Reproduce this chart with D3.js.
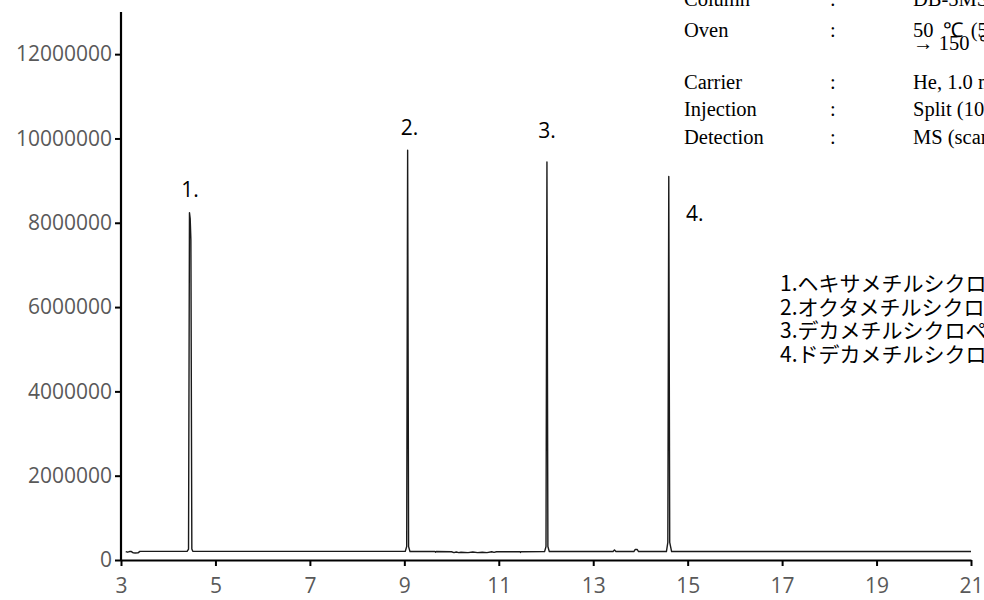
<!DOCTYPE html>
<html>
<head>
<meta charset="utf-8">
<script src="https://cdn.jsdelivr.net/npm/d3@7"></script>
<style>
  body { margin: 0; background: #fff; overflow: hidden; }
  svg { display: block; }
</style>
</head>
<body>
<div id="chart"></div>
<script>
// Retention time (min) and intensity of the chromatogram trace
const times = [
  3.10, 3.14, 3.18, 3.22, 3.26, 3.30, 3.36, 3.40,
  4.40, 4.43, 4.45, 4.465, 4.48, 4.50, 4.52,
  9.02, 9.05, 9.07, 9.09, 9.12,
  9.65, 9.66, 9.67, 10.00, 10.05, 10.10, 10.15, 10.20, 10.35, 10.45, 10.55, 10.65, 10.75, 10.85, 10.90, 10.95,
  11.45, 11.46, 11.47,
  11.97, 12.00, 12.02, 12.04, 12.07,
  13.42, 13.45, 13.48, 13.86, 13.89, 13.93, 13.96,
  14.55, 14.58, 14.60, 14.62, 14.66,
  21.00
];
const intensity = [
  200000, 185000, 200000, 200000, 170000, 165000, 170000, 205000,
  205000, 260000, 8240000, 8100000, 7600000, 260000, 205000,
  205000, 320000, 9720000, 320000, 200000,
  200000, 185000, 200000, 195000, 175000, 190000, 175000, 185000, 175000, 190000, 175000, 185000, 175000, 195000, 180000, 195000,
  195000, 180000, 195000,
  200000, 320000, 9440000, 320000, 200000,
  200000, 240000, 200000, 200000, 250000, 250000, 200000,
  200000, 420000, 9100000, 420000, 200000,
  200000
];

// Peak labels
const peakNames = ["1.", "2.", "3.", "4."];
const peakTimes = [4.46, 9.07, 12.02, 14.60];
const peakLabelY = [8600000, 10080000, 10000000, 8050000];
const peakLabelDx = [0, 2, 0, 26];

// Axis ticks
const xTicks = [3, 5, 7, 9, 11, 13, 15, 17, 19, 21];
const yTicks = [0, 2000000, 4000000, 6000000, 8000000, 10000000, 12000000];

// Conditions table (clipped at the right edge like the original)
const condKeys = ["Column", "Oven", "", "Carrier", "Injection", "Detection"];
const condValues = [
  "DB-5MS (30 m × 0.25 mm I.D., 0.25 μm)",
  "50 ℃ (5 min) → 10 ℃/min",
  "→ 150 ℃ (5 min)",
  "He, 1.0 mL/min",
  "Split (10:1)",
  "MS (scan)"
];

// Compound list
const compounds = [
  "1.ヘキサメチルシクロトリシロキサン",
  "2.オクタメチルシクロテトラシロキサン",
  "3.デカメチルシクロペンタシロキサン",
  "4.ドデカメチルシクロヘキサシロキサン"
];

const width = 984;
const height = 600;
const margin = { top: 12, right: 13, bottom: 40, left: 121 };

const svg = d3.select("#chart")
  .append("svg")
  .attr("width", width)
  .attr("height", height);

const x = d3.scaleLinear()
  .domain([3, 21])
  .range([margin.left, width - margin.right]);

const y = d3.scaleLinear()
  .domain([0, 13000000])
  .range([height - margin.bottom, margin.top]);

// Trace
const trace = times.map((t, i) => [t, intensity[i]]);
const line = d3.line()
  .x(d => x(d[0]))
  .y(d => y(d[1]));

svg.append("path")
  .datum(trace)
  .attr("fill", "none")
  .attr("stroke", "#1a1a1a")
  .attr("stroke-width", 1.4)
  .attr("stroke-linejoin", "round")
  .attr("d", line);

// Axes
const xAxis = svg.append("g")
  .attr("transform", `translate(0,${y(0)})`)
  .call(d3.axisBottom(x).tickValues(xTicks).tickSize(6).tickSizeOuter(0).tickPadding(12));

const yAxis = svg.append("g")
  .attr("transform", `translate(${x(3)},0)`)
  .call(d3.axisLeft(y).tickValues(yTicks).tickSize(6).tickSizeOuter(0).tickPadding(3)
    .tickFormat(d3.format("d")));

[xAxis, yAxis].forEach(function(a) {
  a.select(".domain").attr("stroke", "#000").attr("stroke-width", 2.2);
  a.selectAll(".tick line").attr("stroke", "#000").attr("stroke-width", 2);
  a.selectAll(".tick text")
    .attr("fill", "#595959")
    .attr("font-family", "'Open Sans', sans-serif")
    .attr("font-size", "21px");
});
// extend the y axis line to the top
yAxis.select(".domain").attr("d", `M0,${y(0)}V${margin.top}`);

// Peak labels
svg.selectAll(".peak-label")
  .data(peakNames)
  .enter()
  .append("text")
  .attr("class", "peak-label")
  .attr("x", (d, i) => x(peakTimes[i]) + peakLabelDx[i])
  .attr("y", (d, i) => y(peakLabelY[i]))
  .attr("text-anchor", "middle")
  .attr("font-family", "'Open Sans', sans-serif")
  .attr("font-size", "21px")
  .attr("fill", "#000")
  .text(d => d);

// Conditions table
const cond = svg.append("g")
  .attr("font-family", "'Liberation Serif', 'Times New Roman', serif")
  .attr("font-size", "20.5px")
  .attr("fill", "#000");

const condY = [6, 37, 50, 89, 116, 144];
condKeys.forEach(function(k, i) {
  cond.append("text").attr("x", 684).attr("y", condY[i]).text(k);
  if (k) cond.append("text").attr("x", 830).attr("y", condY[i]).text(":");
  const t = cond.append("text").attr("x", 913).attr("y", condY[i]);
  // the degree sign sits in a wider cell, as in the original
  condValues[i].split("℃").forEach(function(part, j) {
    if (j > 0) {
      t.append("tspan").attr("dx", 4).text("℃");
      t.append("tspan").attr("dx", 3).text(part);
    } else {
      t.append("tspan").text(part);
    }
  });
});

// Compound list
svg.append("g")
  .selectAll("text")
  .data(compounds)
  .enter()
  .append("text")
  .attr("x", 780)
  .attr("y", (d, i) => 291 + i * 23.5)
  .attr("font-family", "'Noto Sans CJK JP', sans-serif")
  .attr("font-size", "21px")
  .attr("fill", "#000")
  .text(d => d);
</script>
</body>
</html>
